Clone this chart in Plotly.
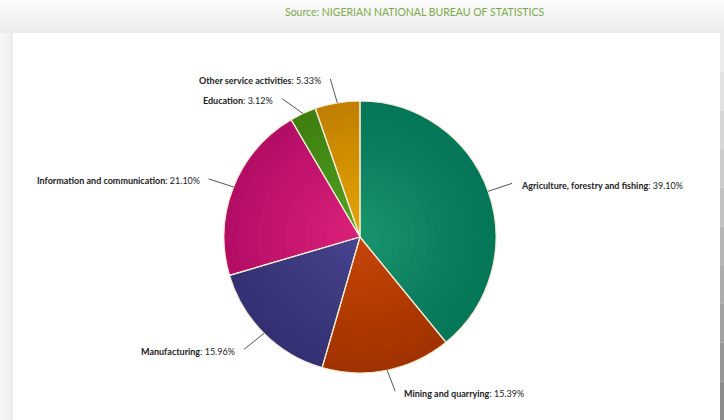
import math
import plotly.graph_objects as go

# ---- data ----
categories = [
    "Agriculture, forestry and fishing",
    "Mining and quarrying",
    "Manufacturing",
    "Information and communication",
    "Education",
    "Other service activities",
]
shares = [39.10, 15.39, 15.96, 21.10, 3.12, 5.33]
colors = ["#17936b", "#c4440a", "#46428d", "#d81f78", "#50a222", "#e4a308"]
source_text = "Source: NIGERIAN NATIONAL BUREAU OF STATISTICS"

# ---- layout constants (pixels) ----
W, H = 724, 420
CX, CY, R = 360, 237, 136
# leader-line offsets (dx, dy) from slice edge, per label
leader = [(24, -8), (8, 21), (-20, 16), (-25, -8), (-21, -15), (-7, -24)]
GAP = 7

def px(x):
    return x / W

def py(y):
    return 1 - y / H

pie_domain = dict(x=[px(CX - R), px(CX + R)], y=[py(CY + R), py(CY - R)])

fig = go.Figure()
fig.add_trace(go.Pie(
    labels=categories,
    values=shares,
    sort=False,
    direction="clockwise",
    rotation=0,
    marker=dict(colors=colors, line=dict(width=0)),
    textinfo="none",
    hoverinfo="label+percent",
    showlegend=False,
    domain=pie_domain,
))

# radial shading: stacked translucent annuli, darker towards the rim
rings = 18
for i in range(rings):
    fig.add_trace(go.Pie(
        values=[1], labels=[""], sort=False, hole=(i + 2) / (rings + 2),
        marker=dict(colors=["rgba(0,0,0,0.008)"], line=dict(width=0)),
        textinfo="none", hoverinfo="skip", showlegend=False,
        domain=pie_domain,
    ))

# slice borders on top
fig.add_trace(go.Pie(
    labels=categories,
    values=shares,
    sort=False,
    direction="clockwise",
    rotation=0,
    marker=dict(colors=["rgba(0,0,0,0)"] * len(shares),
                line=dict(color="#f3ead3", width=1.2)),
    textinfo="none",
    hoverinfo="skip",
    showlegend=False,
    domain=pie_domain,
))

shapes = []
annotations = []

# background frame (gradient-ish bands)
top_h = 33
steps = 8
for i in range(steps):
    g = int(251 - (251 - 236) * i / (steps - 1))
    shapes.append(dict(type="rect", xref="paper", yref="paper", layer="below",
                       x0=0, x1=1, y0=py(top_h * (i + 1) / steps), y1=py(top_h * i / steps),
                       fillcolor=f"rgb({g},{g},{g})", line=dict(width=0)))
for i in range(4):
    g = int(246 - 3 * i)
    shapes.append(dict(type="rect", xref="paper", yref="paper", layer="below",
                       x0=px(i * 13 / 4), x1=px((i + 1) * 13 / 4), y0=0, y1=py(top_h),
                       fillcolor=f"rgb({g},{g},{g})", line=dict(width=0)))
rsteps = 10
for i in range(rsteps):
    y0p = top_h + (H - top_h) * i / rsteps
    y1p = top_h + (H - top_h) * (i + 1) / rsteps
    g = int(236 - (236 - 140) * i / (rsteps - 1))
    shapes.append(dict(type="rect", xref="paper", yref="paper", layer="below",
                       x0=px(720), x1=1, y0=py(y1p), y1=py(y0p),
                       fillcolor=f"rgb({g},{g},{g})", line=dict(width=0)))

# labels with leader lines, positioned from slice mid-angles
total = sum(shares)
cum = 0.0
for name, val, (dx, dy) in zip(categories, shares, leader):
    mid = (cum + val / 2) / total * 2 * math.pi
    cum += val
    ex = CX + R * math.sin(mid)
    ey = CY - R * math.cos(mid)
    ox, oy = ex + dx, ey + dy
    shapes.append(dict(type="line", xref="paper", yref="paper",
                       x0=px(ex), y0=py(ey), x1=px(ox), y1=py(oy),
                       line=dict(color="#555555", width=1)))
    right_side = dx > 0
    tx = ox + GAP if right_side else ox - GAP
    annotations.append(dict(
        x=px(tx), y=py(oy + 2), xref="paper", yref="paper",
        xanchor="left" if right_side else "right", yanchor="middle",
        showarrow=False,
        text=f"<b>{name}</b>: {val:.2f}%",
        font=dict(family="Lato", size=9.0, color="#222222"),
    ))

annotations.append(dict(
    x=px(415), y=py(12), xref="paper", yref="paper",
    xanchor="center", yanchor="middle", showarrow=False,
    text=source_text,
    font=dict(family="Lato", size=10.5, color="#7aab4a"),
))

fig.update_layout(
    width=W, height=H,
    margin=dict(l=0, r=0, t=0, b=0),
    paper_bgcolor="white",
    plot_bgcolor="white",
    shapes=shapes,
    annotations=annotations,
)

fig.write_html("out.html")
